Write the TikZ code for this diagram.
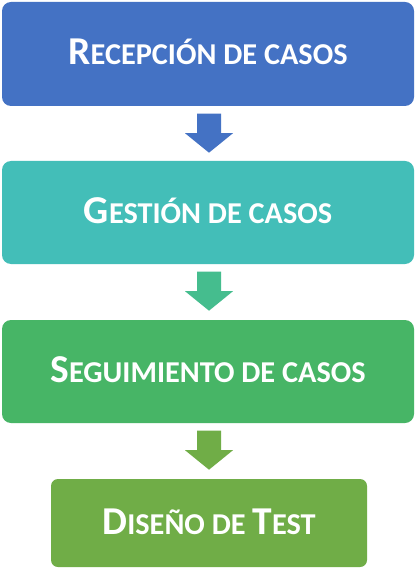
\documentclass[tikz,border=0pt]{standalone}
\usepackage{fontspec}
\setmainfont{Carlito}
\usetikzlibrary{calc}
\definecolor{cblue}{HTML}{4472C4}
\definecolor{cteal}{HTML}{43BEB8}
\definecolor{cgreen}{HTML}{47B566}
\definecolor{clime}{HTML}{70AD47}
\definecolor{carrowb}{HTML}{45BD8E}
\newcommand{\fsc}[2]{{\fontsize{39.5}{44}\selectfont #1}{\fontsize{30.3}{34}\selectfont #2}}
\tikzset{
  stagebox/.style={rounded corners=9pt, minimum width=412pt, minimum height=103pt, text=white, font=\bfseries, inner sep=0pt},
  downarrow/.style={draw=none}
}
\newcommand{\darrow}[2]{\fill[#2] ($(#1.south)+(-11,7.5)$) -- ++(24,0) -- ++(0,19.5) -- ++(12,0) -- ++(-24,19.5) -- ++(-24,-19.5) -- ++(12,0) -- cycle;}
\begin{document}
\begin{tikzpicture}[x=1pt,y=-1pt]
\path[use as bounding box, fill=white] (0,0) rectangle (417,569);
\node[stagebox, fill=cblue, minimum height=104pt] (a) at (208,54) {};
\node[text=white, font=\bfseries, inner sep=0pt] (at) at (208,52) {\fsc{R}{ECEPCIÓN DE CASOS}};
\node[stagebox, fill=cteal] (b) at (208,212.5) {};
\node[text=white, font=\bfseries, inner sep=0pt] (bt) at (208,211) {\fsc{G}{ESTIÓN DE CASOS}};
\node[stagebox, fill=cgreen] (c) at (208,371.5) {};
\node[text=white, font=\bfseries, inner sep=0pt] (ct) at (208,370) {\fsc{S}{EGUIMIENTO DE CASOS}};
\node[stagebox, fill=clime, minimum width=316pt, minimum height=88pt, rounded corners=7pt] (d) at (209,523) {};
\node[text=white, font=\bfseries, inner sep=0pt] (dt) at (209,521.5) {\fsc{D}{ISEÑO DE }\fsc{T}{EST}};
\darrow{a}{cblue}
\darrow{b}{carrowb}
\darrow{c}{clime}
\end{tikzpicture}
\end{document}
